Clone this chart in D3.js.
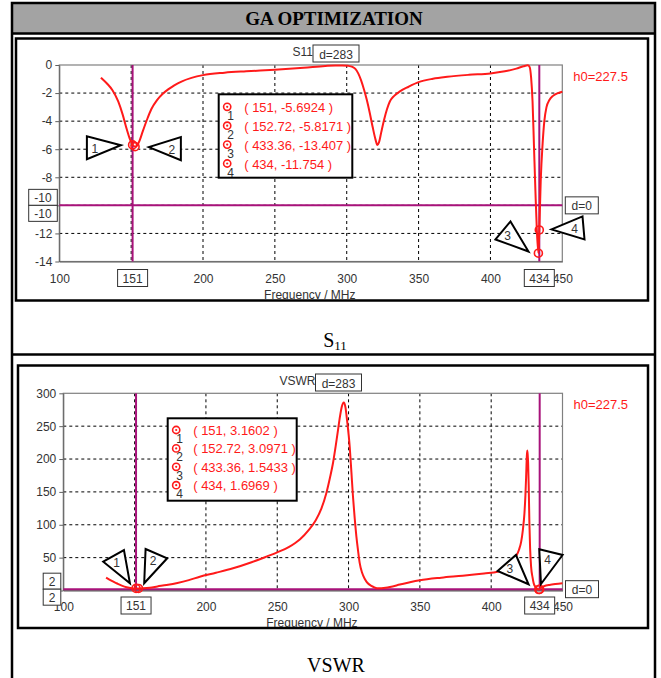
<!DOCTYPE html>
<html>
<head>
<meta charset="utf-8">
<script src="https://cdn.jsdelivr.net/npm/d3@7"></script>
<style>
  html, body { margin: 0; padding: 0; background: #fff; }
  svg { display: block; }
  text { font-family: "Liberation Sans", Arial, sans-serif; }
</style>
</head>
<body>
<svg id="chart" width="661" height="678"></svg>
<script>
// Reflection coefficient S11 (dB) against frequency (MHz)
const s11Freq = [129, 133, 137, 141, 144, 147, 149, 151, 152.72, 154, 156, 158, 161, 164, 168, 172, 176, 180, 185, 192,
  200, 215, 230, 250, 270, 285, 292, 297, 301, 304, 306, 308, 310, 312, 314, 316, 318, 320, 321.3, 322.5,
  324, 326, 328, 330, 333, 337, 343, 350, 360, 370, 385, 400, 410, 418, 423, 426, 427.3, 428.3, 429.3, 430.3,
  431.3, 432.3, 433.36, 434, 435, 436.3, 437.5, 439, 441, 443.5, 447, 450];
const s11Db = [-0.9, -1.3, -1.8, -2.6, -3.5, -4.6, -5.25, -5.6924, -5.8171, -5.75, -5.35, -4.75, -3.9, -3.15, -2.5, -2.05, -1.72, -1.45, -1.18, -0.92,
  -0.72, -0.55, -0.45, -0.34, -0.2, -0.07, -0.03, -0.03, -0.06, -0.14, -0.28, -0.6, -1.1, -1.75, -2.5, -3.4, -4.4, -5.3, -5.7, -5.5,
  -4.8, -3.9, -3.15, -2.6, -2.2, -1.88, -1.55, -1.22, -0.98, -0.84, -0.7, -0.6, -0.45, -0.26, -0.09, -0.02, -0.15, -0.9, -2.6, -5.8,
  -9.0, -11.8, -13.407, -11.754, -8.2, -5.6, -4.0, -3.0, -2.5, -2.2, -2.0, -1.9];

// Standing wave ratio against frequency (MHz)
const vswrFreq = [130, 134, 137.4, 141, 144.4, 148, 151, 152.72, 156, 160.7, 166, 172.4, 180, 188, 195.7, 207, 219, 232, 242.4, 250,
  258, 266, 272, 277, 281, 284.4, 287, 289.1, 291, 292.6, 294, 295.3, 296.6, 297.8, 299, 300.8, 302, 303.1, 304.3, 305.5,
  306.7, 307.8, 309.5, 311.3, 313.5, 316, 318.5, 320.6, 323, 326, 329, 336, 343, 350, 365, 380, 395, 404.6, 410, 414,
  417.5, 419.5, 421, 422.2, 423.3, 424, 424.5, 425, 425.3, 425.6, 425.9, 426.3, 426.8, 427.3, 428, 429, 429.8, 431, 431.9, 432.7,
  433.36, 434, 435, 437, 440.8, 445, 450];
const vswrVal = [19.5, 14.5, 11, 7.5, 5, 3.6, 3.1602, 3.0971, 3.4, 4.3, 6.2, 8.4, 11.5, 15.8, 21, 27, 33.8, 43, 51.5, 58,
  66, 78, 92, 107, 125, 148, 172, 194, 220, 244, 265, 280, 286, 279, 258, 219, 180, 143, 110, 82,
  60, 42, 27, 18, 11, 6.9, 4.4, 3.3, 3.6, 4.3, 5.4, 9, 12.5, 15.5, 19.5, 22.5, 26, 28.6, 33, 40,
  52, 62, 74, 92, 117, 145, 173, 205, 213, 206, 194, 160, 102, 64, 36, 20, 11, 5.5, 3.3, 2.0,
  1.5433, 1.6969, 4.9, 6.5, 8.4, 9.8, 11];

// Markers placed on both traces
const markerFreq = [151, 152.72, 433.36, 434];
const markerS11 = [-5.6924, -5.8171, -13.407, -11.754];
const markerVswr = [3.1602, 3.0971, 1.5433, 1.6969];
const markerNames = ["1", "2", "3", "4"];

// Cursor lines
const cursorFreq = [151, 434];
const s11Cursor = -10;
const vswrCursor = 2;

// Axis ticks
const freqTicks = [100, 150, 200, 250, 300, 350, 400, 450];
const s11Ticks = [0, -2, -4, -6, -8, -10, -12, -14];
const vswrTicks = [0, 50, 100, 150, 200, 250, 300];

const RED = "#ff1a1a";
const PURPLE = "#a8127a";
const INK = "#333";

const svg = d3.select("#chart");

// ---- table frame with the heading row ----
svg.append("rect").attr("x", 12).attr("y", 3).attr("width", 643).attr("height", 30)
  .attr("fill", "#a3a3a3");
svg.append("rect").attr("x", 12).attr("y", 3).attr("width", 643).attr("height", 700)
  .attr("fill", "none").attr("stroke", "#000").attr("stroke-width", 2.5);
svg.append("line").attr("x1", 12).attr("x2", 655).attr("y1", 33.5).attr("y2", 33.5)
  .attr("stroke", "#000").attr("stroke-width", 2.5);
svg.append("line").attr("x1", 12).attr("x2", 655).attr("y1", 354.5).attr("y2", 354.5)
  .attr("stroke", "#000").attr("stroke-width", 2.5);
svg.append("text").attr("x", 334).attr("y", 25).attr("text-anchor", "middle")
  .style("font-family", "'Liberation Serif', 'Times New Roman', serif")
  .style("font-weight", "bold").style("font-size", "19px").attr("fill", "#000")
  .text("GA OPTIMIZATION");

// captions below each chart
const cap1 = svg.append("text").attr("x", 335).attr("y", 347).attr("text-anchor", "middle")
  .style("font-family", "'Liberation Serif', 'Times New Roman', serif").attr("fill", "#000");
cap1.append("tspan").style("font-size", "20px").text("S");
cap1.append("tspan").style("font-size", "13px").attr("dy", 3).text("11");
svg.append("text").attr("x", 336).attr("y", 672).attr("text-anchor", "middle")
  .style("font-family", "'Liberation Serif', 'Times New Roman', serif")
  .style("font-size", "20px").attr("fill", "#000").text("VSWR");

function labelBox(g, cx, cy, w, h, txt) {
  g.append("rect").attr("x", cx - w / 2).attr("y", cy - h / 2).attr("width", w).attr("height", h)
    .attr("fill", "#fff").attr("stroke", INK).attr("stroke-width", 1);
  g.append("text").attr("x", cx).attr("y", cy + 4.5).attr("text-anchor", "middle")
    .style("font-size", "12px").attr("fill", INK).text(txt);
}

function drawPanel(o) {
  const { x, y } = o;
  const g = svg.append("g");
  const [x0, x1] = x.range();
  const yTop = Math.min(...y.range()), yBot = Math.max(...y.range());

  // chart frame
  g.append("rect").attr("x", o.frame[0]).attr("y", o.frame[1])
    .attr("width", o.frame[2]).attr("height", o.frame[3])
    .attr("fill", "#fff").attr("stroke", "#000").attr("stroke-width", 2.5);

  // dashed grid
  g.append("g").selectAll("line").data(freqTicks.filter(t => t > 100 && t < 450)).join("line")
    .attr("x1", d => x(d)).attr("x2", d => x(d)).attr("y1", yTop).attr("y2", yBot)
    .attr("stroke", "#000").attr("stroke-width", 1).attr("stroke-dasharray", "3,3");
  const yDom = y.domain();
  g.append("g").selectAll("line")
    .data(o.yTicks.filter(t => t !== yDom[0] && t !== yDom[1])).join("line")
    .attr("x1", x0).attr("x2", x1).attr("y1", d => y(d)).attr("y2", d => y(d))
    .attr("stroke", "#000").attr("stroke-width", 1).attr("stroke-dasharray", "3,3");

  // plot border
  g.append("rect").attr("x", x0).attr("y", yTop).attr("width", x1 - x0).attr("height", yBot - yTop)
    .attr("fill", "none").attr("stroke", "#808080").attr("stroke-width", 1.2);

  // axes; labels sitting under the cursor value boxes are left blank
  const ax = g.append("g").attr("transform", `translate(${x0},0)`)
    .call(d3.axisLeft(y).tickValues(o.yTicks).tickSize(4).tickSizeOuter(0).tickPadding(3)
      .tickFormat(d => o.yHidden.includes(d) ? "" : String(d)));
  ax.select(".domain").attr("stroke", "#606060");
  ax.selectAll(".tick line").attr("stroke", "#606060");
  ax.selectAll("text").style("font-size", "12px").attr("fill", INK).style("font-family", "'Liberation Sans', Arial, sans-serif");
  const bx = g.append("g").attr("transform", `translate(0,${yBot})`)
    .call(d3.axisBottom(x).tickValues(freqTicks).tickSize(0).tickSizeOuter(0).tickPadding(o.xPad)
      .tickFormat(d => d === 150 ? "" : String(d)));
  bx.select(".domain").attr("stroke", "#606060");
  bx.selectAll("text").style("font-size", "12px").attr("fill", INK).style("font-family", "'Liberation Sans', Arial, sans-serif");

  // axis caption, cut by the frame bottom
  const clipId = "clip" + o.id;
  g.append("clipPath").attr("id", clipId).append("rect")
    .attr("x", o.frame[0]).attr("y", o.frame[1]).attr("width", o.frame[2]).attr("height", o.frame[3] - 1);
  g.append("text").attr("clip-path", `url(#${clipId})`)
    .attr("x", (x0 + x1) / 2 - 1).attr("y", o.frame[1] + o.frame[3] - 1.5).attr("text-anchor", "middle")
    .style("font-size", "12px").attr("fill", INK).text("Frequency / MHz");

  // cursor lines
  g.append("g").selectAll("line").data(cursorFreq).join("line")
    .attr("x1", d => x(d)).attr("x2", d => x(d)).attr("y1", yTop).attr("y2", yBot)
    .attr("stroke", PURPLE).attr("stroke-width", 2);
  g.append("line").attr("x1", x0).attr("x2", x1).attr("y1", y(o.cursor)).attr("y2", y(o.cursor))
    .attr("stroke", PURPLE).attr("stroke-width", 2);

  // trace
  const line = d3.line().x(d => x(d[0])).y(d => y(d[1])).curve(d3.curveMonotoneX);
  g.append("path").datum(d3.zip(o.freq, o.vals)).attr("d", line)
    .attr("fill", "none").attr("stroke", RED).attr("stroke-width", 2).attr("stroke-linejoin", "round");

  // markers
  const pts = markerFreq.map((f, i) => [x(f), y(o.mvals[i])]);
  g.append("g").selectAll("circle").data(pts).join("circle")
    .attr("cx", d => d[0]).attr("cy", d => d[1]).attr("r", 4)
    .attr("fill", "none").attr("stroke", RED).attr("stroke-width", 1.6);

  // marker call-out triangles
  o.callouts.forEach((c, i) => {
    const p = pts[i];
    g.append("polygon").attr("points", c.tri.map(v => [p[0] + v[0], p[1] + v[1]].join(",")).join(" "))
      .attr("fill", "#fff").attr("stroke", "#000").attr("stroke-width", 2).attr("stroke-linejoin", "miter");
    g.append("text").attr("x", p[0] + c.lab[0]).attr("y", p[1] + c.lab[1] + 4.5).attr("text-anchor", "middle")
      .style("font-size", "12px").attr("fill", INK).text(markerNames[i]);
  });

  // marker read-out list
  const L = o.legend;
  g.append("rect").attr("x", L.x).attr("y", L.y).attr("width", L.w).attr("height", L.h)
    .attr("fill", "#fff").attr("stroke", "#000").attr("stroke-width", 2);
  markerFreq.forEach((f, i) => {
    const cy = L.y + L.first + i * L.step;
    g.append("circle").attr("cx", L.x + 8.5).attr("cy", cy).attr("r", 3.6)
      .attr("fill", "none").attr("stroke", RED).attr("stroke-width", 1.6);
    g.append("circle").attr("cx", L.x + 8.5).attr("cy", cy).attr("r", 1.1).attr("fill", RED);
    g.append("text").attr("x", L.x + 12).attr("y", cy + 13).attr("text-anchor", "middle")
      .style("font-size", "12px").attr("fill", INK).text(markerNames[i]);
    g.append("text").attr("x", L.x + 25.5).attr("y", cy + 5)
      .style("font-size", "13px").attr("fill", RED)
      .text(`( ${f}, ${o.mvals[i]} )`);
  });

  // title and delta box
  g.append("text").attr("x", o.titleX).attr("y", o.titleY).attr("text-anchor", "end")
    .style("font-size", "12px").attr("fill", INK).text(o.title);
  g.append("rect").attr("x", o.titleX).attr("y", o.titleY - 11).attr("width", 46).attr("height", 17)
    .attr("fill", "#fff").attr("stroke", INK).attr("stroke-width", 1);
  g.append("text").attr("x", o.titleX + 23).attr("y", o.titleY + 2.5).attr("text-anchor", "middle")
    .style("font-size", "12px").attr("fill", INK).text("d=283");

  g.append("text").attr("x", x1 + 11).attr("y", yTop + 16)
    .style("font-size", "13px").attr("fill", RED).text("h0=227.5");

  // value boxes on the axes
  cursorFreq.forEach(f => labelBox(g, x(f), yBot + o.xBoxDy, 30, 17, String(f)));
  labelBox(g, o.yBoxX, y(o.cursor) - 8, o.yBoxW, 16, String(o.cursor));
  labelBox(g, o.yBoxX, y(o.cursor) + 8, o.yBoxW, 16, String(o.cursor));
  labelBox(g, x1 + 19.5, y(o.cursor), 33, 17, "d=0");
}

drawPanel({
  id: 1,
  x: d3.scaleLinear().domain([100, 450]).range([59.3, 562.3]),
  y: d3.scaleLinear().domain([0, -14]).range([65, 261.5]),
  frame: [16, 38.5, 632, 262],
  yTicks: s11Ticks, yHidden: [s11Cursor], xPad: 13,
  freq: s11Freq, vals: s11Db, mvals: markerS11,
  cursor: s11Cursor,
  legend: { x: 218.7, y: 94.3, w: 133.6, h: 83.4, first: 12.5, step: 18.9 },
  title: "S11", titleX: 313, titleY: 56,
  xBoxDy: 16.5, yBoxX: 43, yBoxW: 28.6,
  callouts: [
    { tri: [[-45.7, -8.7], [-45.7, 14.3], [-11.7, 0.3]], lab: [-37.7, 3.3] },
    { tri: [[45.8, -9.5], [45.8, 13.5], [13.8, 0.5]], lab: [36.8, 2.5] },
    { tri: [[-42.9, -13.7], [-27.9, -31.7], [-9.9, -1.7]], lab: [-30.9, -17.7] },
    { tri: [[12.2, -0.6], [43.2, -13.6], [45.2, 9.4]], lab: [35.2, -1.6] }
  ]
});

drawPanel({
  id: 2,
  x: d3.scaleLinear().domain([100, 450]).range([63.3, 562.5]),
  y: d3.scaleLinear().domain([0, 300]).range([590.5, 393.3]),
  frame: [18, 365.5, 630, 262.5],
  yTicks: vswrTicks, yHidden: [0], xPad: 12,
  freq: vswrFreq, vals: vswrVal, mvals: markerVswr,
  cursor: vswrCursor,
  legend: { x: 167.7, y: 418.3, w: 129, h: 82.4, first: 11.7, step: 18.4 },
  title: "VSWR", titleX: 315.5, titleY: 385,
  xBoxDy: 15, yBoxX: 52, yBoxW: 17.6,
  callouts: [
    { tri: [[-32.8, -26.7], [-12.1, -38.4], [-6.1, -5.1]], lab: [-19.4, -26.1] },
    { tri: [[7.1, -39.5], [28.7, -30.2], [5.7, -5.2]], lab: [14.7, -27.8] },
    { tri: [[-41.2, -18.5], [-22.8, -34.5], [-10.2, -5.2]], lab: [-28.8, -20.5] },
    { tri: [[-0.4, -40.1], [22.9, -34.4], [1.3, -5.4]], lab: [7.9, -29.4] }
  ]
});
</script>
</body>
</html>
